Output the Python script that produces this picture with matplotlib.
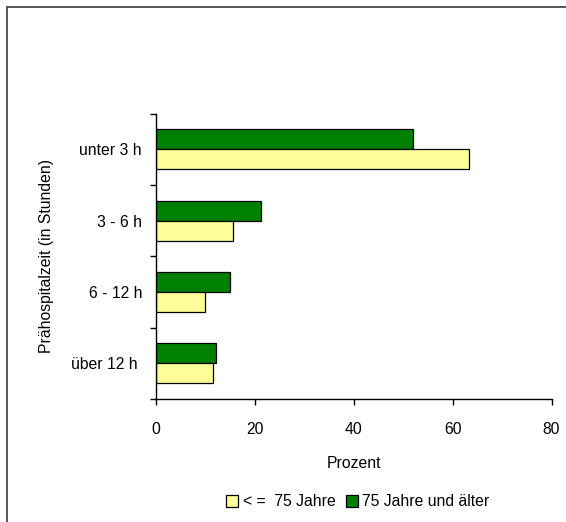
import matplotlib
matplotlib.use("Agg")
import matplotlib.pyplot as plt
from matplotlib.lines import Line2D
import numpy as np

# Data
categories = ["unter 3 h", "3 - 6 h", "6 - 12 h", "über 12 h "]
series_names = ["< =  75 Jahre", "75 Jahre und älter"]
young = [63.3, 15.5, 10.0, 11.6]
old = [52.0, 21.3, 15.0, 12.2]
x_ticks = [0, 20, 40, 60, 80]

COL_YOUNG = "#FFFF99"
COL_OLD = "#008000"
FS = 11.3

plt.rcParams["font.family"] = ["Liberation Sans", "DejaVu Sans"]

W, H = 566, 522
fig = plt.figure(figsize=(W / 100, H / 100), dpi=100)

def fx(px):
    return px / W

def fy(py):
    return 1 - py / H

# Outer frame (left and top edges visible)
fig.add_artist(Line2D([fx(7), fx(7)], [fy(7), fy(H + 5)], transform=fig.transFigure,
                      color="#555555", lw=1.4))
fig.add_artist(Line2D([fx(7), fx(W + 5)], [fy(7), fy(7)], transform=fig.transFigure,
                      color="#555555", lw=1.4))

ax_left, ax_right, ax_top, ax_bottom = 156, 551.5, 113.5, 399
ax = fig.add_axes([fx(ax_left), fy(ax_bottom), fx(ax_right - ax_left),
                   (ax_bottom - ax_top) / H])

n = len(categories)
ypos = np.arange(n)[::-1]  # first category on top
h = 0.28
b_old = ax.barh(ypos + h / 2, old, height=h, color=COL_OLD, edgecolor="black",
                linewidth=0.9, label=series_names[1])
b_young = ax.barh(ypos - h / 2, young, height=h, color=COL_YOUNG, edgecolor="black",
                  linewidth=0.9, label=series_names[0])

ax.set_xlim(0, 80)
ax.set_ylim(-0.5, n - 0.5)
ax.set_xticks(x_ticks)
ax.set_xticklabels([str(v) for v in x_ticks], fontsize=FS)
ax.set_yticks(ypos)
ax.set_yticklabels(categories, fontsize=FS)
ax.set_yticks(np.arange(-0.5, n, 1.0), minor=True)

ax.tick_params(axis="y", which="major", length=0, pad=10)
ax.tick_params(axis="y", which="minor", length=4, width=1, direction="out")
ax.tick_params(axis="x", which="major", length=4, width=1, direction="out", pad=12.5)

for s in ["top", "right"]:
    ax.spines[s].set_visible(False)
for s in ["left", "bottom"]:
    ax.spines[s].set_linewidth(1)
    ax.spines[s].set_color("black")

fig.text(fx(354), fy(463), "Prozent", ha="center", va="center", fontsize=FS)
fig.text(fx(47), fy(256), "Prähospitalzeit (in Stunden)", ha="center", va="center",
         rotation=90, fontsize=FS)

fig.legend(handles=[b_young, b_old], labels=series_names, loc="center",
           bbox_to_anchor=(fx(358), fy(502)), ncol=2, frameon=False, fontsize=FS,
           handlelength=0.72, handleheight=0.72, handletextpad=0.3,
           columnspacing=0.7, borderaxespad=0, borderpad=0)

fig.savefig("out.png", dpi=100)
